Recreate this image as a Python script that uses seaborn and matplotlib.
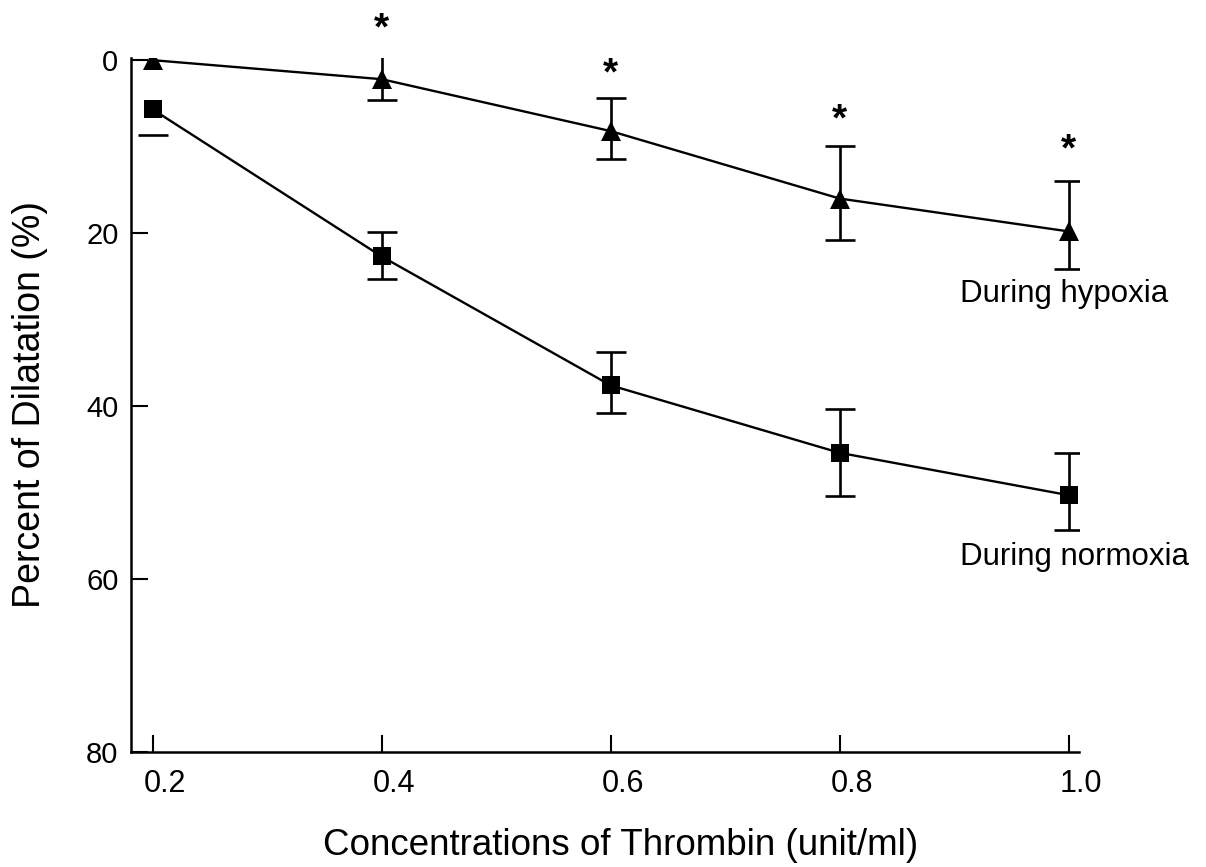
import numpy as np
import pandas as pd
import matplotlib
matplotlib.use("Agg")
import matplotlib.pyplot as plt
import matplotlib.transforms as mtransforms
import seaborn as sns

# ---- data ----
concentrations = [0.2, 0.4, 0.6, 0.8, 1.0]
tick_labels = ["0.2", "0.4", "0.6", "0.8", "1.0"]

hypoxia = [0.0, 2.2, 8.2, 16.0, 19.8]
hypoxia_err_up = [np.nan, 3.0, 3.8, 6.1, 5.8]     # toward smaller values (drawn upward)
hypoxia_err_down = [np.nan, 2.4, 3.2, 4.8, 4.3]   # toward larger values (drawn downward)

normoxia = [5.7, 22.7, 37.6, 45.4, 50.3]
normoxia_err_up = [np.nan, 2.8, 3.8, 5.1, 4.9]
normoxia_err_down = [3.0, 2.6, 3.2, 5.0, 4.0]

star_x = [0.4, 0.6, 0.8, 1.0]
star_y = [-4.2, 1.0, 6.3, 9.7]

y_ticks = [0, 20, 40, 60, 80]

# ---- styling ----
sns.set_style("ticks", {"axes.edgecolor": "black", "text.color": "black",
                        "xtick.color": "black", "ytick.color": "black",
                        "axes.labelcolor": "black"})
plt.rcParams["font.family"] = ["Liberation Sans", "DejaVu Sans"]

df = pd.DataFrame({
    "conc": concentrations * 2,
    "value": hypoxia + normoxia,
    "group": ["During hypoxia"] * 5 + ["During normoxia"] * 5,
})

fig = plt.figure(figsize=(12.06, 8.67), dpi=100)
ax = fig.add_axes([0.1086, 0.1326, 0.786, 0.801])

sns.lineplot(data=df, x="conc", y="value", style="group", hue="group",
             palette={"During hypoxia": "black", "During normoxia": "black"},
             markers={"During hypoxia": "^", "During normoxia": "s"},
             dashes=False, linewidth=1.7, markeredgewidth=0,
             legend=False, ax=ax, zorder=3)
# marker sizes per series
for line in ax.get_lines():
    if line.get_marker() == "^":
        line.set_markersize(15)
    elif line.get_marker() == "s":
        line.set_markersize(13)

ax.errorbar(concentrations, hypoxia, yerr=[hypoxia_err_up, hypoxia_err_down],
            fmt="none", ecolor="black", elinewidth=1.9, capsize=11, capthick=1.9, zorder=2)
ax.errorbar(concentrations, normoxia, yerr=[normoxia_err_up, normoxia_err_down],
            fmt="none", ecolor="black", elinewidth=1.9, capsize=11, capthick=1.9, zorder=2)

star_offset = ax.transData + mtransforms.ScaledTranslation(0, -0.06, fig.dpi_scale_trans)
for sx, sy in zip(star_x, star_y):
    ax.text(sx, sy, "*", ha="center", va="center", fontsize=28, fontweight="bold",
            transform=star_offset)

ax.text(0.905, 27.0, "During hypoxia", ha="left", va="center", fontsize=22.5)
ax.text(0.905, 57.5, "During normoxia", ha="left", va="center", fontsize=22.5)

ax.set_xlim(0.181, 1.009)
ax.set_ylim(80, -0.3)
ax.set_xticks(concentrations)
ax.set_xticklabels(tick_labels)
ax.set_yticks(y_ticks)
ax.tick_params(axis="both", direction="in", length=12, width=1.5, pad=9)
ax.tick_params(axis="x", labelsize=22, pad=12)
ax.tick_params(axis="y", labelsize=21)

# reference x tick labels sit slightly right of their ticks
shift = mtransforms.ScaledTranslation(0.12, 0, fig.dpi_scale_trans)
for lab in ax.get_xticklabels():
    lab.set_transform(lab.get_transform() + shift)

for side in ["top", "right"]:
    ax.spines[side].set_visible(False)
for side in ["left", "bottom"]:
    ax.spines[side].set_linewidth(1.8)

ax.set_xlabel("Concentrations of Thrombin (unit/ml)", fontsize=26.5, va="center")
ax.set_ylabel("Percent of Dilatation (%)", fontsize=27, va="center")
ax.xaxis.set_label_coords(0.517, -0.134)
ax.yaxis.set_label_coords(-0.1065, 0.5)

fig.savefig("out.png", dpi=100)
